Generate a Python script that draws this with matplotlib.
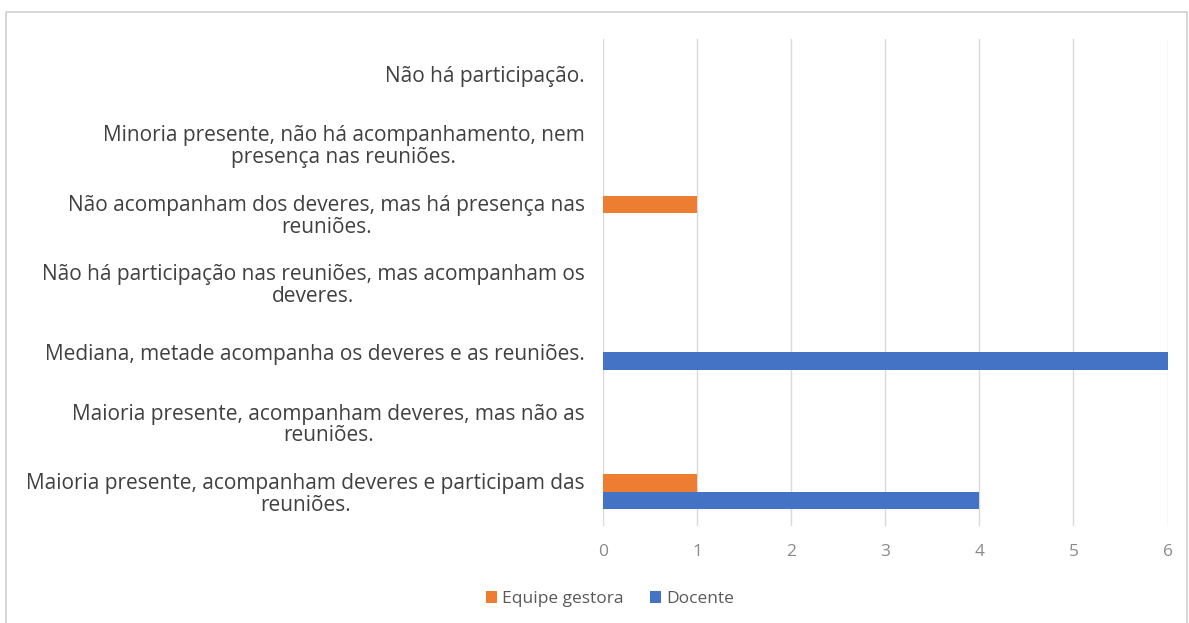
import numpy as np
import matplotlib.pyplot as plt
from matplotlib.patches import Rectangle

plt.rcParams['font.family'] = ['Open Sans', 'DejaVu Sans']

categorias = [
    "Maioria presente, acompanham deveres e participam das\nreuniões.",
    "Maioria presente, acompanham deveres, mas não as\nreuniões.",
    "Mediana, metade acompanha os deveres e as reuniões.",
    "Não há participação nas reuniões, mas acompanham os\ndeveres.",
    "Não acompanham dos deveres, mas há presença nas\nreuniões.",
    "Minoria presente, não há acompanhamento, nem\npresença nas reuniões.",
    "Não há participação.",
]
equipe_gestora = [1, 0, 0, 0, 1, 0, 0]
docente = [4, 0, 6, 0, 0, 0, 0]
x_ticks = [0, 1, 2, 3, 4, 5, 6]

fig = plt.figure(figsize=(11.89, 6.23), dpi=100)
ax = fig.add_axes([0.507, 0.155, 0.475, 0.782])

y = np.arange(len(categorias))
h = 0.25
ax.barh(y + h / 2, equipe_gestora, height=h, color='#ED7D31', label='Equipe gestora', zorder=3)
ax.barh(y - h / 2, docente, height=h, color='#4472C4', label='Docente', zorder=3)

ax.set_xlim(0, 6)
ax.set_ylim(-0.5, len(categorias) - 0.5)
ax.set_xticks(x_ticks)
ax.set_yticks(y)
ax.set_yticklabels(categorias, multialignment='center', fontsize=15, color='#404040',
                   linespacing=1.05)
ax.tick_params(axis='x', labelsize=12.5, labelcolor='#8a8a8a', length=0, pad=13)
ax.tick_params(axis='y', length=0, pad=13)
ax.grid(axis='x', color='#d9d9d9', linewidth=1, zorder=0)
for s in ax.spines.values():
    s.set_visible(False)

handles, labels = ax.get_legend_handles_labels()
fig.legend(handles, labels, loc='lower center', bbox_to_anchor=(0.513, 0.0), ncol=2,
           frameon=False, fontsize=12.5, labelcolor='#595959', handlelength=0.65,
           handleheight=0.65, handletextpad=0.3, columnspacing=1.5)

# outer chart frame
fig.patches.append(Rectangle((0.005, -0.01), 0.993, 0.99, transform=fig.transFigure,
                             fill=False, edgecolor='#d0d0d0', linewidth=1.2))

fig.savefig('out.png', dpi=100)
